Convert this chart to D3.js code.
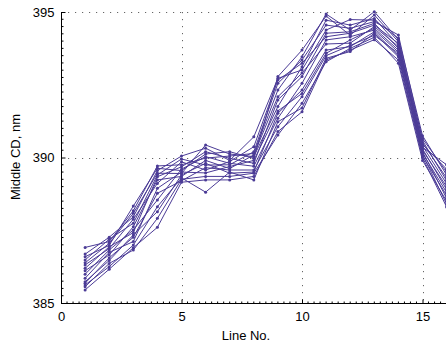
<!DOCTYPE html>
<html>
<head>
<meta charset="utf-8">
<script src="https://cdn.jsdelivr.net/npm/d3@7"></script>
<style>
  html, body { margin: 0; padding: 0; background: #fff; }
  svg { display: block; font-family: "Liberation Sans", Arial, Helvetica, sans-serif; }
</style>
</head>
<body>
<svg id="chart" width="446" height="346"></svg>
<script>
// Line numbers along the x axis
const lineNo = [1, 2, 3, 4, 5, 6, 7, 8, 9, 10, 11, 12, 13, 14, 15, 16];

// Middle CD (nm) measured for each wafer along the lines
const wafer01 = [386.91, 387.11, 388.17, 389.71, 389.75, 389.98, 390.05, 390.14, 392.32, 393.46, 394.93, 394.38, 395.01, 394.05, 390.45, 389.60];
const wafer02 = [386.68, 387.26, 387.96, 389.55, 390.05, 390.32, 389.90, 390.71, 392.72, 393.01, 394.38, 394.74, 394.72, 394.10, 390.75, 389.40];
const wafer03 = [386.59, 386.98, 388.33, 389.63, 389.55, 390.12, 390.20, 389.97, 392.78, 393.69, 394.86, 394.20, 394.90, 393.98, 390.35, 389.75];
const wafer04 = [386.48, 387.19, 387.74, 389.40, 389.95, 389.74, 389.75, 390.20, 392.55, 393.35, 394.55, 394.44, 394.67, 394.21, 390.58, 389.20];
const wafer05 = [386.38, 387.05, 388.08, 389.46, 389.45, 390.43, 390.12, 390.03, 391.75, 393.12, 394.72, 394.55, 394.78, 393.87, 390.65, 389.50];
const wafer06 = [386.31, 386.87, 387.88, 389.11, 389.85, 389.57, 389.86, 390.37, 392.66, 393.24, 394.15, 394.27, 394.55, 393.92, 390.25, 389.00];
const wafer07 = [386.19, 386.93, 387.42, 389.34, 389.68, 390.20, 389.97, 389.80, 391.98, 392.78, 394.27, 394.32, 394.61, 393.75, 390.50, 389.30];
const wafer08 = [386.11, 386.65, 387.62, 389.23, 389.35, 389.90, 389.62, 390.09, 392.09, 392.90, 393.90, 393.93, 394.50, 393.81, 390.15, 388.80];
const wafer09 = [385.99, 386.82, 387.51, 388.54, 389.60, 390.03, 389.80, 389.70, 391.35, 392.55, 394.04, 394.15, 394.38, 393.62, 390.40, 389.10];
const wafer10 = [385.85, 386.74, 387.11, 388.94, 389.50, 389.47, 389.69, 389.90, 391.60, 392.20, 393.58, 394.04, 394.44, 393.69, 390.30, 388.90];
const wafer11 = [385.73, 386.46, 387.34, 388.14, 389.40, 389.80, 389.46, 389.50, 391.52, 392.32, 393.69, 393.81, 394.32, 393.50, 390.20, 388.60];
const wafer12 = [385.68, 386.55, 387.26, 388.77, 389.20, 389.65, 389.57, 389.57, 391.06, 392.09, 393.50, 393.85, 394.20, 393.58, 390.05, 388.70];
const wafer13 = [385.62, 386.25, 386.99, 388.31, 389.30, 388.81, 389.50, 389.23, 391.23, 391.70, 393.41, 393.64, 394.27, 393.46, 390.10, 388.40];
const wafer14 = [385.56, 386.36, 386.82, 387.91, 389.25, 389.35, 389.35, 389.46, 390.77, 391.86, 393.29, 393.75, 394.13, 393.24, 389.90, 388.50];
const wafer15 = [385.45, 386.16, 386.90, 387.60, 389.15, 389.23, 389.23, 389.35, 390.89, 391.57, 393.35, 393.69, 394.05, 393.35, 390.00, 388.30];

const waferSeries = [wafer01, wafer02, wafer03, wafer04, wafer05, wafer06, wafer07, wafer08,
                     wafer09, wafer10, wafer11, wafer12, wafer13, wafer14, wafer15];

const xTicks = [0, 5, 10, 15];
const yTicks = [385, 390, 395];

const svg = d3.select("#chart");
const W = 446, H = 346;
const padLeft = 61, padTop = 12, axisY = 303;

// x extends past the right edge of the frame
const x = d3.scaleLinear().domain([0, 16]).range([padLeft, padLeft + 16 * 24.1]);
const y = d3.scaleLinear().domain([385, 395]).range([axisY, padTop]);

const lineColor = "#4b3b96";

svg.append("defs").append("clipPath").attr("id", "plot-clip")
  .append("rect").attr("x", padLeft).attr("y", 0).attr("width", W - padLeft).attr("height", axisY + 1);

// dotted grid at major ticks
const grid = svg.append("g").attr("stroke", "#666").attr("stroke-width", 1)
  .attr("stroke-dasharray", "1.2,5.8");
yTicks.filter(v => v > 385).forEach(v => {
  grid.append("line").attr("x1", padLeft).attr("x2", W)
    .attr("y1", Math.round(y(v)) + 0.5).attr("y2", Math.round(y(v)) + 0.5);
});
xTicks.filter(v => v > 0).forEach(v => {
  grid.append("line").attr("x1", Math.round(x(v)) + 0.5).attr("x2", Math.round(x(v)) + 0.5)
    .attr("y1", padTop).attr("y2", axisY);
});

// axes with inward ticks and minor ticks
const xAxis = d3.axisBottom(x).tickValues(xTicks).tickSize(-4).tickPadding(8).tickFormat(d3.format("d"));
const yAxis = d3.axisLeft(y).tickValues(yTicks).tickSize(-4).tickPadding(7).tickFormat(d3.format("d"));

const minorX = d3.range(0, 16.01, 0.25).filter(v => v % 5 !== 0);
const minorY = d3.range(385, 395.01, 0.25).filter(v => v % 5 !== 0);

const gx = svg.append("g").attr("transform", `translate(0,${axisY + 0.5})`).call(xAxis);
gx.select(".domain").attr("d", `M${padLeft},0H${W}`);
gx.selectAll(".minor").data(minorX).enter().append("line").attr("class", "minor")
  .attr("x1", d => x(d)).attr("x2", d => x(d)).attr("y1", 0).attr("y2", -2)
  .attr("stroke", "#000");

const gy = svg.append("g").attr("transform", `translate(${padLeft + 0.5},0)`).call(yAxis);
gy.select(".domain").attr("d", `M0,${axisY}V${padTop}`);
gy.selectAll(".minor").data(minorY).enter().append("line").attr("class", "minor")
  .attr("y1", d => y(d)).attr("y2", d => y(d)).attr("x1", 0).attr("x2", 2)
  .attr("stroke", "#000");

svg.selectAll(".tick text").attr("font-size", 13).attr("fill", "#000")
  .attr("font-family", "\"Liberation Sans\", Arial, sans-serif");

// data lines with point markers
const plot = svg.append("g").attr("clip-path", "url(#plot-clip)");
const line = d3.line().x((d, i) => x(lineNo[i])).y(d => y(d));
waferSeries.forEach(vals => {
  plot.append("path").datum(vals).attr("d", line)
    .attr("fill", "none").attr("stroke", lineColor).attr("stroke-width", 1);
  plot.selectAll(null).data(vals).enter().append("circle")
    .attr("cx", (d, i) => x(lineNo[i])).attr("cy", d => y(d)).attr("r", 1.5)
    .attr("fill", lineColor);
});

// axis titles
svg.append("text").attr("x", 246).attr("y", 340).attr("text-anchor", "middle")
  .attr("font-size", 13).text("Line No.");
svg.append("text").attr("transform", "translate(20,157) rotate(-90)")
  .attr("text-anchor", "middle").attr("font-size", 13).text("Middle CD, nm");
</script>
</body>
</html>
